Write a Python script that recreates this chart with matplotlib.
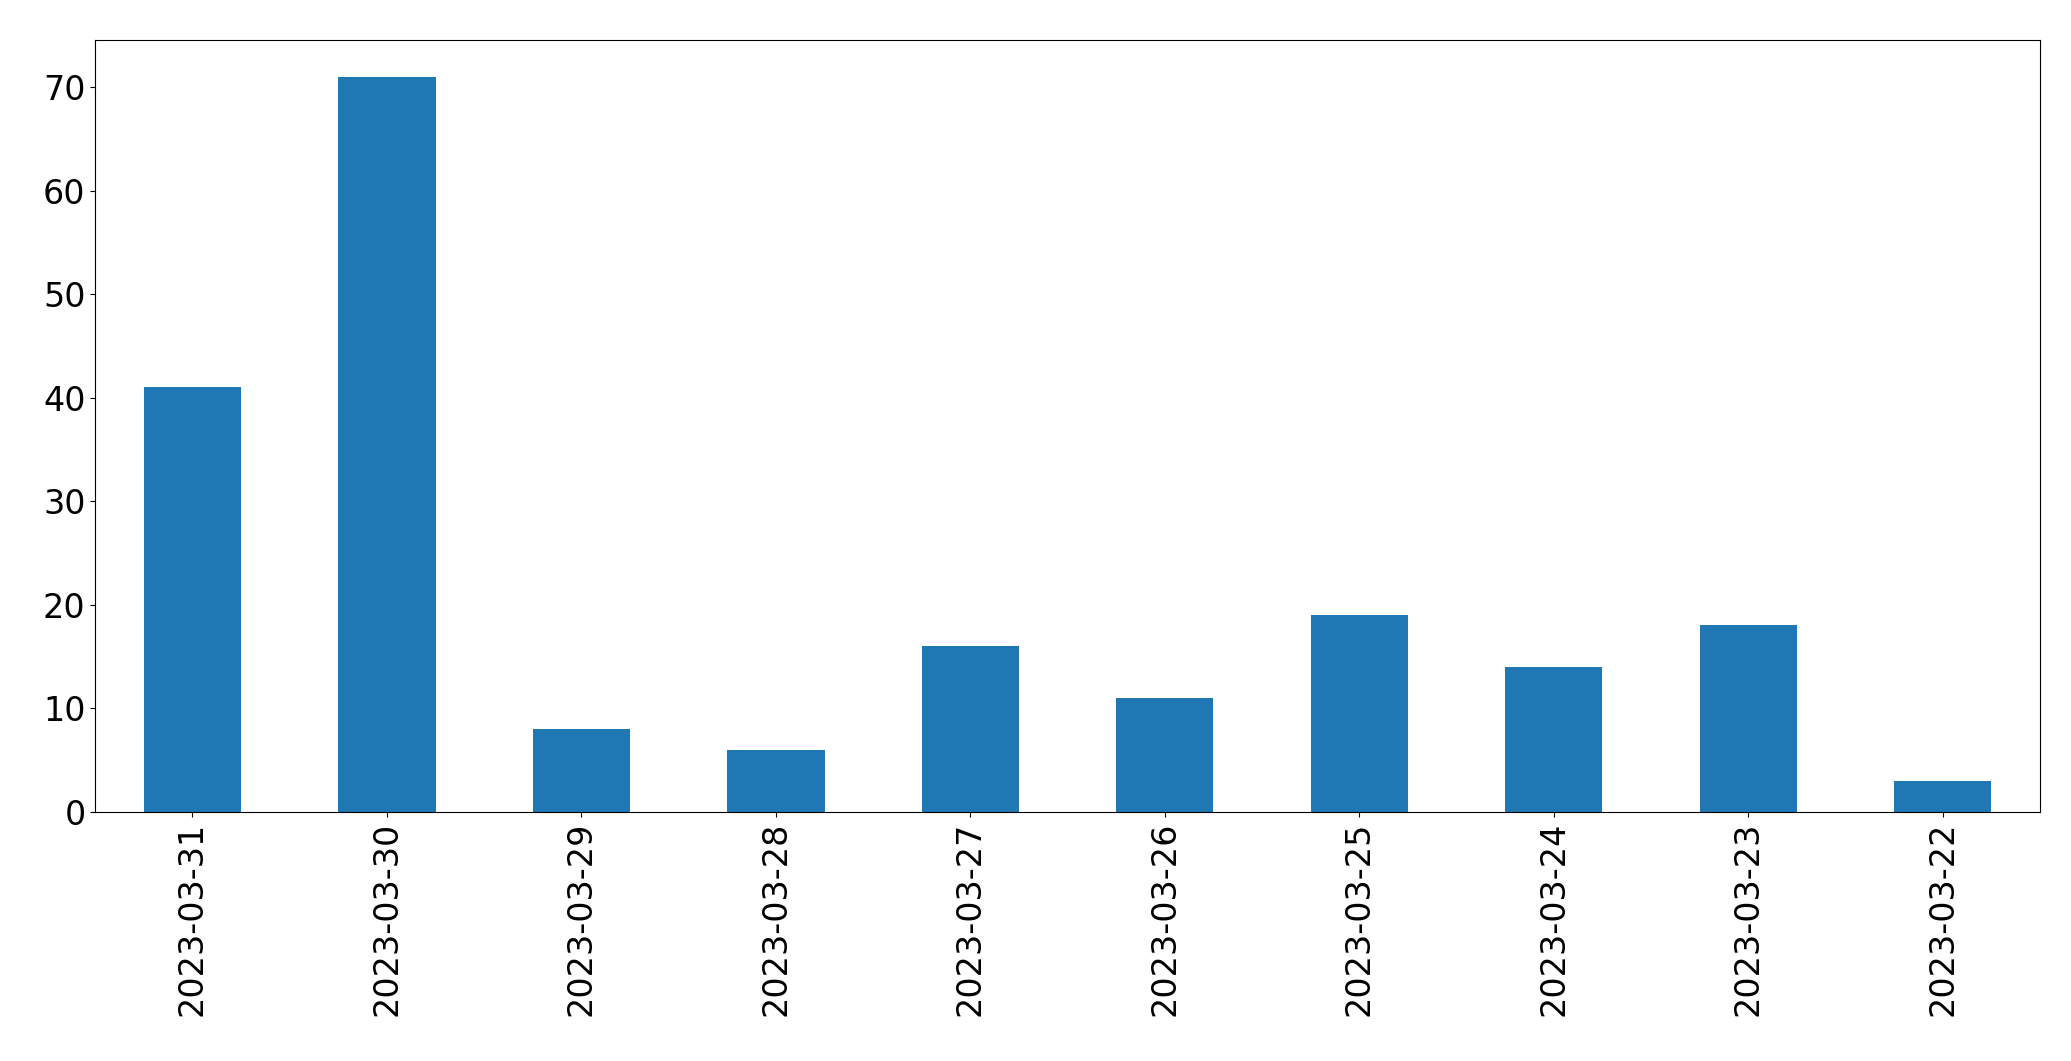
import matplotlib
matplotlib.use("Agg")
import matplotlib.pyplot as plt

dates = ["2023-03-31","2023-03-30","2023-03-29","2023-03-28","2023-03-27",
         "2023-03-26","2023-03-25","2023-03-24","2023-03-23","2023-03-22"]
counts = [41, 71, 8, 6, 16, 11, 19, 14, 18, 3]

fig = plt.figure(figsize=(20.71, 10.61), dpi=100)
ax = fig.add_axes([0.046, 0.235, 0.939, 0.727])
x = range(len(dates))
ax.bar(x, counts, width=0.5, color="#1f77b4")
ax.set_xticks(list(x))
ax.set_xticklabels(dates, rotation=90)
ax.set_xlim(-0.5, len(dates) - 0.5)
ax.set_ylim(0, max(counts) * 1.05)
ax.tick_params(labelsize=24)
fig.savefig("out.png", dpi=100)
